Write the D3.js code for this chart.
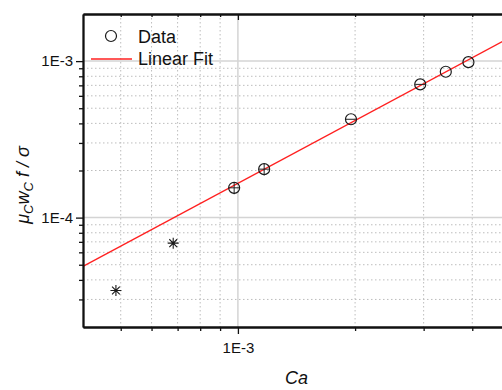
<!DOCTYPE html>
<html>
<head>
<meta charset="utf-8">
<script src="https://cdn.jsdelivr.net/npm/d3@7/dist/d3.min.js"></script>
<style>
  html, body { margin: 0; padding: 0; background: #fff; }
  svg { display: block; font-family: "Liberation Sans", Arial, sans-serif; }
</style>
</head>
<body>
<svg id="chart" width="502" height="390"></svg>
<script>
// Measured points (capillary number vs. dimensionless friction term)
const caData = [9.78e-4, 1.168e-3, 1.952e-3, 2.94e-3, 3.42e-3, 3.91e-3];
const frictionData = [1.55e-4, 2.04e-4, 4.25e-4, 7.1e-4, 8.55e-4, 9.85e-4];
const caErr = [2.9e-5, 3.4e-5, 5.7e-5, 8.6e-5, 0, 0];
const frictionErr = [1.4e-5, 1.8e-5, 0, 0, 0, 0];

// Low-Ca points shown separately (excluded from the fit)
const caOutliers = [4.86e-4, 6.82e-4];
const frictionOutliers = [3.42e-5, 6.87e-5];

// Power-law fit: y = fitA * Ca^fitB
const fitA = 1.656;
const fitB = 4 / 3;

// Axis ticks
const xMajorTicks = [1e-3];
const xMinorTicks = [5e-4, 6e-4, 7e-4, 8e-4, 9e-4, 2e-3, 3e-3, 4e-3];
const yMajorTicks = [1e-4, 1e-3];
const yMinorTicks = [3e-5, 4e-5, 5e-5, 6e-5, 7e-5, 8e-5, 9e-5,
                     2e-4, 3e-4, 4e-4, 5e-4, 6e-4, 7e-4, 8e-4, 9e-4];
const tickLabel = d => d === 1e-3 ? "1E-3" : d === 1e-4 ? "1E-4" : "";

const legendLabels = ["Data", "Linear Fit"];

const svg = d3.select("#chart");
const pLeft = 83, pTop = 14, pBottom = 327, pRight = 510;

const x = d3.scaleLog().domain([4e-4, 5e-3]).range([pLeft, pRight]);
const y = d3.scaleLog().domain([2e-5, 2e-3]).range([pBottom, pTop]);

// Grid: minor dotted, major solid
const grid = svg.append("g");
grid.selectAll(".vminor").data(xMinorTicks).join("line")
  .attr("x1", d => x(d)).attr("x2", d => x(d)).attr("y1", pTop).attr("y2", pBottom)
  .attr("stroke", "#bdbdbd").attr("stroke-width", 1).attr("stroke-dasharray", "1.5,2.5");
grid.selectAll(".hminor").data(yMinorTicks).join("line")
  .attr("y1", d => y(d)).attr("y2", d => y(d)).attr("x1", pLeft).attr("x2", pRight)
  .attr("stroke", "#bdbdbd").attr("stroke-width", 1).attr("stroke-dasharray", "1.5,2.5");
grid.selectAll(".vmajor").data(xMajorTicks).join("line")
  .attr("x1", d => x(d)).attr("x2", d => x(d)).attr("y1", pTop).attr("y2", pBottom)
  .attr("stroke", "#d4d4d4").attr("stroke-width", 1.5);
grid.selectAll(".hmajor").data(yMajorTicks).join("line")
  .attr("y1", d => y(d)).attr("y2", d => y(d)).attr("x1", pLeft).attr("x2", pRight)
  .attr("stroke", "#d4d4d4").attr("stroke-width", 1.5);

// Fit line across the whole x domain
const fitX = x.domain();
svg.append("path")
  .datum(fitX.map(c => [c, fitA * Math.pow(c, fitB)]))
  .attr("d", d3.line().x(d => x(d[0])).y(d => y(d[1])))
  .attr("stroke", "#ff2020").attr("stroke-width", 1.3).attr("fill", "none");

// Error bars
const pts = caData.map((c, i) => ({ c, f: frictionData[i], ec: caErr[i], ef: frictionErr[i] }));
const eb = svg.append("g").attr("stroke", "#222").attr("stroke-width", 1);
eb.selectAll(".ex").data(pts.filter(p => p.ec > 0)).join("line")
  .attr("x1", p => x(p.c - p.ec)).attr("x2", p => x(p.c + p.ec))
  .attr("y1", p => y(p.f)).attr("y2", p => y(p.f));
eb.selectAll(".ey").data(pts.filter(p => p.ef > 0)).join("line")
  .attr("x1", p => x(p.c)).attr("x2", p => x(p.c))
  .attr("y1", p => y(p.f - p.ef)).attr("y2", p => y(p.f + p.ef));

// Data circles
svg.append("g").selectAll("circle").data(pts).join("circle")
  .attr("cx", p => x(p.c)).attr("cy", p => y(p.f)).attr("r", 5.5)
  .attr("fill", "none").attr("stroke", "#1a1a1a").attr("stroke-width", 1.2);

// Asterisk markers
const star = d3.path();
[[0, 1], [1, 0], [0.7071, 0.7071], [0.7071, -0.7071]].forEach(([dx, dy]) => {
  const r = 5.5;
  star.moveTo(-dx * r, -dy * r); star.lineTo(dx * r, dy * r);
});
svg.append("g").selectAll("path")
  .data(caOutliers.map((c, i) => [c, frictionOutliers[i]])).join("path")
  .attr("d", star.toString())
  .attr("transform", d => `translate(${x(d[0])},${y(d[1])})`)
  .attr("stroke", "#1a1a1a").attr("stroke-width", 1.1).attr("fill", "none");

// Axes
function styleAxis(g) {
  g.selectAll("path, line").attr("stroke", "#111");
  g.select(".domain").attr("stroke-width", 1.8);
  g.selectAll(".tick line").attr("stroke-width", 1.3);
  g.selectAll("text").attr("fill", "#111").style("font-size", "15px")
    .style("font-family", "'Liberation Sans', Arial, sans-serif");
}

svg.append("g").attr("transform", `translate(${pLeft},0)`)
  .call(d3.axisLeft(y).tickValues(yMinorTicks).tickSize(4).tickSizeOuter(0).tickFormat(""))
  .call(styleAxis);
svg.append("g").attr("transform", `translate(${pLeft},0)`)
  .call(d3.axisLeft(y).tickValues(yMajorTicks).tickSize(7).tickSizeOuter(0).tickPadding(3).tickFormat(tickLabel))
  .call(styleAxis);

svg.append("g").attr("transform", `translate(0,${pBottom})`)
  .call(d3.axisBottom(x).tickValues(xMinorTicks).tickSize(4).tickSizeOuter(0).tickFormat(""))
  .call(styleAxis);
svg.append("g").attr("transform", `translate(0,${pBottom})`)
  .call(d3.axisBottom(x).tickValues(xMajorTicks).tickSize(7).tickSizeOuter(0).tickPadding(8).tickFormat(tickLabel))
  .call(styleAxis);

// Top axis with inward ticks
svg.append("g").attr("transform", `translate(0,${pTop})`)
  .call(d3.axisTop(x).tickValues(xMinorTicks).tickSize(-3).tickSizeOuter(0).tickFormat(""))
  .call(styleAxis);
svg.append("g").attr("transform", `translate(0,${pTop})`)
  .call(d3.axisTop(x).tickValues(xMajorTicks).tickSize(-6).tickSizeOuter(0).tickFormat(""))
  .call(styleAxis);

// Axis titles
svg.append("text")
  .attr("x", (pLeft + pRight) / 2).attr("y", 384)
  .attr("text-anchor", "middle")
  .style("font-size", "18px").style("font-style", "italic").attr("fill", "#111")
  .text("Ca");

const yTitle = svg.append("text")
  .attr("transform", "translate(29,185) rotate(-90)")
  .attr("text-anchor", "middle")
  .style("font-size", "18px").style("font-style", "italic").attr("fill", "#111");
yTitle.append("tspan").text("μ");
yTitle.append("tspan").attr("dy", 4).style("font-size", "13px").text("C");
yTitle.append("tspan").attr("dy", -4).text("w");
yTitle.append("tspan").attr("dy", 4).style("font-size", "13px").text("C");
yTitle.append("tspan").attr("dy", -4).text(" f / σ");

// Legend
const legend = svg.append("g");
legend.append("circle").attr("cx", 111).attr("cy", 36).attr("r", 5.5)
  .attr("fill", "none").attr("stroke", "#1a1a1a").attr("stroke-width", 1.2);
legend.append("line").attr("x1", 91).attr("x2", 132).attr("y1", 59).attr("y2", 59)
  .attr("stroke", "#ff2020").attr("stroke-width", 1.3);
legend.selectAll("text").data(legendLabels).join("text")
  .attr("x", 138).attr("y", (d, i) => 42.5 + i * 22.5)
  .style("font-size", "18px").attr("fill", "#111")
  .text(d => d);
</script>
</body>
</html>
